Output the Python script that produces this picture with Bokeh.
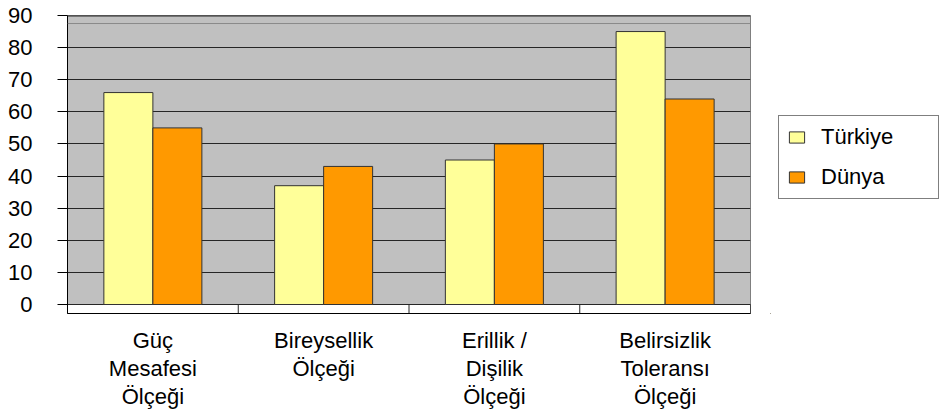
from bokeh.plotting import figure
from bokeh.layouts import row
from bokeh.models import (FactorRange, Range1d, FixedTicker, Legend, LegendItem,
                          ColumnDataSource, Span)
from bokeh.transform import dodge
from bokeh.embed import file_html
from bokeh.resources import INLINE

# ---- data ----
categories = ["Güç\nMesafesi\nÖlçeği", "Bireysellik\nÖlçeği",
              "Erillik /\nDişilik\nÖlçeği", "Belirsizlik\nToleransı\nÖlçeği"]
turkiye = [66, 37, 45, 85]
dunya = [55, 43, 50, 64]
series_names = ["Türkiye", "Dünya"]
series_colors = ["#FFFF99", "#FF9900"]
y_ticks = [0, 10, 20, 30, 40, 50, 60, 70, 80, 90]

FONT = "Liberation Sans"
FS = "22px"
Y_LOW = -2.80
GRID = "#262626"
BAR_LINE = "#333333"

p = figure(width=770, height=412,
           x_range=FactorRange(factors=categories, range_padding=0),
           y_range=Range1d(Y_LOW, y_ticks[-1]),
           output_backend="svg", toolbar_location=None,
           min_border_left=67, min_border_right=20,
           min_border_top=15, min_border_bottom=99,
           background_fill_color="#C0C0C0", border_fill_color="white",
           outline_line_color="#7f7f7f")

p.xgrid.visible = False
p.ygrid.ticker = FixedTicker(ticks=y_ticks)
p.ygrid.grid_line_color = GRID
p.ygrid.grid_line_width = 1

# faint back-wall line near top
p.add_layout(Span(location=87.5, dimension="width", line_color="#8a8a8a", line_width=1))
# dark top edge of plot area
p.add_layout(Span(location=y_ticks[-1], dimension="width", line_color=GRID, line_width=2))

# white floor strip with category dividers
n = len(categories)
p.quad(left=[0], right=[n], bottom=[Y_LOW], top=[0],
       fill_color="white", line_color=GRID, line_width=1)
p.segment(x0=list(range(n + 1)), x1=list(range(n + 1)),
          y0=[Y_LOW] * (n + 1), y1=[0] * (n + 1), line_color=GRID, line_width=1)

src = ColumnDataSource(dict(cat=categories, tr=turkiye, dn=dunya))
BW = 0.287
p.vbar(x=dodge("cat", -BW / 2, range=p.x_range), top="tr", width=BW, source=src,
       fill_color=series_colors[0], line_color=BAR_LINE, line_width=1)
p.vbar(x=dodge("cat", BW / 2, range=p.x_range), top="dn", width=BW, source=src,
       fill_color=series_colors[1], line_color=BAR_LINE, line_width=1)

# axes
ya = p.yaxis[0]
ya.ticker = FixedTicker(ticks=y_ticks)
ya.major_tick_out = 10
ya.major_tick_in = 0
ya.minor_tick_out = 0
ya.minor_tick_in = 0
ya.axis_line_color = "black"
ya.major_tick_line_color = "black"
ya.major_label_text_font = FONT
ya.major_label_text_font_size = FS
ya.major_label_text_color = "black"
ya.major_label_standoff = 25

xa = p.xaxis[0]
xa.major_tick_out = 0
xa.major_tick_in = 0
xa.axis_line_color = "black"
xa.major_label_text_font = FONT
xa.major_label_text_font_size = FS
xa.major_label_text_color = "black"
xa.major_label_text_line_height = 1.12
xa.major_label_standoff = 14
xa.major_label_orientation = "horizontal"

# ---- legend panel (separate figure to the right) ----
lf = figure(width=169, height=412, output_backend="svg", toolbar_location=None,
            x_axis_type=None, y_axis_type=None,
            x_range=Range1d(0, 1), y_range=Range1d(0, 1),
            min_border_left=0, min_border_right=0, min_border_top=0, min_border_bottom=0,
            outline_line_color=None, background_fill_color="white",
            border_fill_color="white")
lf.xgrid.visible = False
lf.ygrid.visible = False
items = []
for name, col in zip(series_names, series_colors):
    # legend proxy glyph, kept outside the visible range of this panel
    rr = lf.vbar(x=[-5], top=[-5], bottom=[-6], width=0.1,
                 fill_color=col, line_color=BAR_LINE, line_width=1)
    items.append(LegendItem(label=name, renderers=[rr]))

legend = Legend(items=items, location=(8, 114))
legend.label_text_font = FONT
legend.label_text_font_size = FS
legend.label_text_color = "black"
legend.glyph_width = 19
legend.glyph_height = 14
legend.label_standoff = 15
legend.label_width = 109
legend.spacing = 14
legend.padding = 8
legend.border_line_color = "black"
legend.border_line_width = 1
legend.background_fill_color = "white"
legend.background_fill_alpha = 1
legend.margin = 0
lf.add_layout(legend)

layout = row(p, lf, spacing=0)
open("out.html", "w").write(file_html(layout, INLINE))
